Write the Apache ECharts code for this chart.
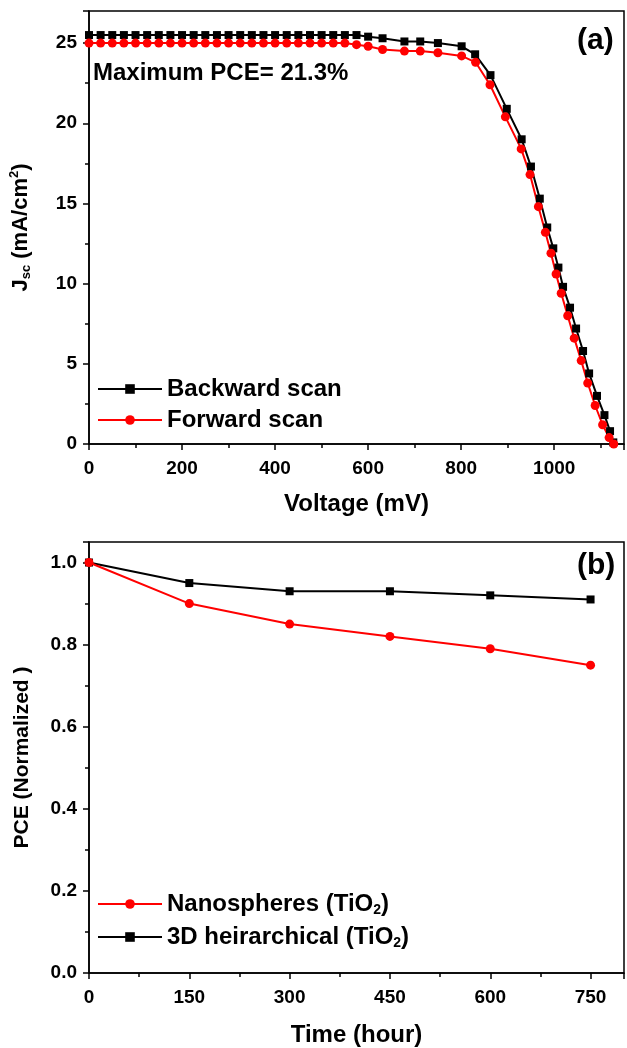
<!DOCTYPE html>
<html>
<head>
<meta charset="utf-8">
<script src="https://cdn.jsdelivr.net/npm/echarts@6/dist/echarts.min.js"></script>
<style>
  html, body { margin: 0; padding: 0; background: #fff; }
  #chart { width: 627px; height: 1048px; }
</style>
</head>
<body>
<div id="chart"></div>
<script>
// (a) J-V curves
const vBackward = [0, 25, 50, 75, 100, 125, 150, 175, 200, 225, 250, 275, 300, 325, 350, 375, 400, 425, 450, 475, 500, 525, 550, 575, 600,
  631, 678, 712, 750, 801, 830, 863, 898, 930, 950, 969, 985, 998, 1009, 1019, 1034, 1047, 1062, 1075, 1092, 1108, 1120, 1127];
const jBackward = [25.5, 25.5, 25.5, 25.5, 25.5, 25.5, 25.5, 25.5, 25.5, 25.5, 25.5, 25.5, 25.5, 25.5, 25.5, 25.5, 25.5, 25.5, 25.5, 25.5, 25.5, 25.5, 25.5, 25.5, 25.4,
  25.3, 25.1, 25.1, 25.0, 24.8, 24.3, 23.0, 20.9, 19.0, 17.3, 15.3, 13.5, 12.2, 11.0, 9.8, 8.5, 7.2, 5.8, 4.4, 3.0, 1.8, 0.8, 0.1];
const vForward = [0, 25, 50, 75, 100, 125, 150, 175, 200, 225, 250, 275, 300, 325, 350, 375, 400, 425, 450, 475, 500, 525, 550, 575, 600,
  631, 678, 712, 750, 801, 831, 862, 895, 929, 948, 966, 981, 993, 1004, 1015, 1029, 1043, 1058, 1072, 1088, 1104, 1118, 1128];
const jForward = [25.0, 25.0, 25.0, 25.0, 25.0, 25.0, 25.0, 25.0, 25.0, 25.0, 25.0, 25.0, 25.0, 25.0, 25.0, 25.0, 25.0, 25.0, 25.0, 25.0, 25.0, 25.0, 25.0, 24.9, 24.8,
  24.6, 24.5, 24.5, 24.4, 24.2, 23.8, 22.4, 20.4, 18.4, 16.8, 14.8, 13.2, 11.9, 10.6, 9.4, 8.0, 6.6, 5.2, 3.8, 2.4, 1.2, 0.4, 0.0];

// (b) stability
const hours = [0, 150, 300, 450, 600, 750];
const pceNano = [1.0, 0.90, 0.85, 0.82, 0.79, 0.75];
const pce3D = [1.0, 0.95, 0.93, 0.93, 0.92, 0.91];

const FONT = "'Liberation Sans', Arial, sans-serif";
const RED = '#ff0000';

function pairs(xs, ys) {
  return xs.map((x, i) => [x, ys[i]]);
}

const myChart = echarts.init(document.getElementById('chart'));

const axisCommon = {
  axisLine: { show: true, lineStyle: { color: '#000', width: 1.5 } },
  axisTick: { show: true, inside: false, length: 6, lineStyle: { color: '#000', width: 1.5 } },
  minorTick: { show: true, splitNumber: 2, length: 4, lineStyle: { color: '#000', width: 1.5 } },
  splitLine: { show: false },
  nameTextStyle: { color: '#000', fontFamily: FONT, fontWeight: 'bold', fontSize: 24 }
};
const labelStyle = { color: '#000', fontFamily: FONT, fontWeight: 'bold', fontSize: 19 };

const option = {
  animation: false,
  backgroundColor: '#fff',
  grid: [
    { left: 89, right: 3, top: 11, height: 433, show: true, borderColor: '#000', borderWidth: 1.5 },
    { left: 89, right: 2, top: 542, height: 433, show: true, borderColor: '#000', borderWidth: 1.5 }
  ],
  xAxis: [
    Object.assign({}, axisCommon, {
      gridIndex: 0, type: 'value', min: 0, max: 1150, interval: 200,
      name: 'Voltage (mV)', nameLocation: 'middle', nameGap: 48,
      axisLabel: Object.assign({}, labelStyle, {
        margin: 15,
        formatter: v => (v % 200 === 0 ? String(v) : '')
      })
    }),
    Object.assign({}, axisCommon, {
      gridIndex: 1, type: 'value', min: 0, max: 800, interval: 150,
      name: 'Time (hour)', nameLocation: 'middle', nameGap: 50,
      axisLabel: Object.assign({}, labelStyle, {
        margin: 15,
        formatter: v => (v % 150 === 0 ? String(v) : '')
      })
    })
  ],
  yAxis: [
    Object.assign({}, axisCommon, {
      gridIndex: 0, type: 'value', min: 0, max: 27, interval: 5,
      name: '{b|J}{sub|sc}{b| (mA/cm}{sup|2}{b|)}', nameLocation: 'middle', nameGap: 56,
      nameTextStyle: {
        color: '#000', fontFamily: FONT, fontWeight: 'bold', fontSize: 22,
        rich: {
          b: { color: '#000', fontFamily: FONT, fontWeight: 'bold', fontSize: 22 },
          sub: { color: '#000', fontFamily: FONT, fontWeight: 'bold', fontSize: 13, padding: [12, 0, 0, 0] },
          sup: { color: '#000', fontFamily: FONT, fontWeight: 'bold', fontSize: 13, padding: [0, 0, 12, 0] }
        }
      },
      axisLabel: Object.assign({}, labelStyle, {
        margin: 12,
        formatter: v => (v % 5 === 0 ? String(v) : '')
      })
    }),
    Object.assign({}, axisCommon, {
      gridIndex: 1, type: 'value', min: 0, max: 1.05, interval: 0.2,
      name: 'PCE (Normalized )', nameLocation: 'middle', nameGap: 56,
      nameTextStyle: { color: '#000', fontFamily: FONT, fontWeight: 'bold', fontSize: 21 },
      axisLabel: Object.assign({}, labelStyle, {
        margin: 12,
        formatter: v => (v > 1.01 ? '' : v.toFixed(1))
      })
    })
  ],
  legend: [
    {
      orient: 'vertical', left: 92, top: 372, itemGap: 7,
      itemWidth: 64, itemHeight: 12,
      data: ['Backward scan', 'Forward scan'],
      textStyle: { color: '#000', fontFamily: FONT, fontWeight: 'bold', fontSize: 24 }
    },
    {
      orient: 'vertical', left: 92, top: 887, itemGap: 8,
      itemWidth: 64, itemHeight: 12,
      data: ['Nanospheres (TiO2)', '3D heirarchical (TiO2)'],
      formatter: name => '{t|' + name.slice(0, -2) + '}{s|2}{t|)}',
      textStyle: {
        color: '#000', fontFamily: FONT, fontWeight: 'bold', fontSize: 24,
        rich: {
          t: { color: '#000', fontFamily: FONT, fontWeight: 'bold', fontSize: 24 },
          s: { color: '#000', fontFamily: FONT, fontWeight: 'bold', fontSize: 14, padding: [12, 0, 0, 0] }
        }
      }
    }
  ],
  graphic: [
    { type: 'text', left: 577, top: 26, style: { text: '(a)', fill: '#000', font: 'bold 30px ' + FONT } },
    { type: 'text', left: 577, top: 551, style: { text: '(b)', fill: '#000', font: 'bold 30px ' + FONT } },
    { type: 'text', left: 93, top: 61, style: { text: 'Maximum PCE= 21.3%', fill: '#000', font: 'bold 24px ' + FONT } }
  ],
  series: [
    {
      name: 'Backward scan', type: 'line', xAxisIndex: 0, yAxisIndex: 0,
      data: pairs(vBackward, jBackward),
      symbol: 'rect', symbolSize: 8,
      lineStyle: { color: '#000', width: 2 },
      itemStyle: { color: '#000' }
    },
    {
      name: 'Forward scan', type: 'line', xAxisIndex: 0, yAxisIndex: 0,
      data: pairs(vForward, jForward),
      symbol: 'circle', symbolSize: 9,
      lineStyle: { color: RED, width: 2 },
      itemStyle: { color: RED }
    },
    {
      name: '3D heirarchical (TiO2)', type: 'line', xAxisIndex: 1, yAxisIndex: 1,
      data: pairs(hours, pce3D),
      symbol: 'rect', symbolSize: 8,
      lineStyle: { color: '#000', width: 2 },
      itemStyle: { color: '#000' }
    },
    {
      name: 'Nanospheres (TiO2)', type: 'line', xAxisIndex: 1, yAxisIndex: 1,
      data: pairs(hours, pceNano),
      symbol: 'circle', symbolSize: 9,
      lineStyle: { color: RED, width: 2 },
      itemStyle: { color: RED }
    }
  ]
};

myChart.setOption(option);
</script>
</body>
</html>
